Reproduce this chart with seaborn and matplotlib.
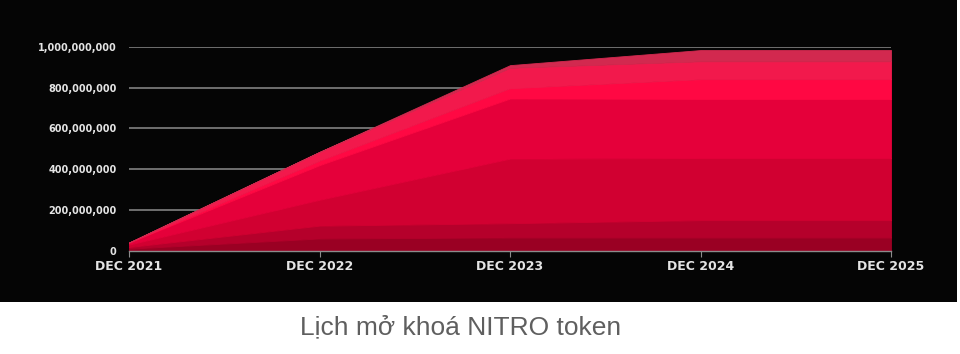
import matplotlib.pyplot as plt
import matplotlib.patches as mpatches
from matplotlib.ticker import FuncFormatter
import seaborn as sns

# Dữ liệu mở khoá (ước lượng từ hình), đơn vị: triệu token
years = [2021, 2022, 2023, 2024, 2025]
tick_labels = ['DEC 2021', 'DEC 2022', 'DEC 2023', 'DEC 2024', 'DEC 2025']
layer1 = [10, 60, 65, 65, 65]
layer2 = [8, 63, 70, 85, 85]
layer3 = [12, 127, 317, 305, 305]
layer4 = [10, 170, 295, 290, 290]
layer5 = [0, 22, 51, 97, 97]
layer6 = [0, 43, 100, 88, 88]
layer7 = [0, 0, 13, 55, 55]
layer_colors = ['#9a0023', '#b5002b', '#d10031', '#e5003a', '#ff0843', '#f2194c', '#d2294f']

sns.set_style('dark')

fig = plt.figure(figsize=(9.6, 3.54), dpi=100, facecolor='white')
# nền đen của ảnh gốc
fig.patches.append(mpatches.Rectangle((0, 0.147), 0.9965, 0.853, transform=fig.transFigure,
                                      facecolor='#050505', edgecolor='none', zorder=-1))

ax = fig.add_axes([0.1344, 0.2918, 0.79375, 0.5754])
ax.set_zorder(2)
ax.set_facecolor('none')

layers = [layer1, layer2, layer3, layer4, layer5, layer6, layer7]
vals = [[v * 1e6 for v in l] for l in layers]
polys = ax.stackplot(years, *vals, colors=layer_colors, zorder=2)
for p, c in zip(polys, layer_colors):
    p.set_edgecolor(c)
    p.set_linewidth(0.6)

ax.set_xlim(2021, 2025)
ax.set_ylim(0, 1e9)
ax.set_yticks([0, 2e8, 4e8, 6e8, 8e8, 1e9])
ax.yaxis.set_major_formatter(FuncFormatter(lambda v, p: f'{v:,.0f}'))
ax.set_xticks(years)
ax.set_xticklabels(tick_labels)

ax.grid(axis='y', color='#8c8c8c', linewidth=1.1, zorder=1)
ax.grid(axis='x', visible=False)
ax.set_axisbelow(True)

for side in ['top', 'right', 'left']:
    ax.spines[side].set_visible(False)
ax.spines['bottom'].set_color('#8c8c8c')
ax.spines['bottom'].set_linewidth(1.0)
ax.spines['bottom'].set_zorder(3)

ax.tick_params(axis='y', length=0, pad=9, labelsize=7, labelcolor='#e4e4e4')
ax.tick_params(axis='x', length=4, width=0.8, color='#8c8c8c', pad=3,
               labelsize=9, labelcolor='#e4e4e4', bottom=True)
for lbl in ax.get_xticklabels() + ax.get_yticklabels():
    lbl.set_fontweight('bold')

fig.text(0.480, 0.076, 'Lịch mở khoá NITRO token', ha='center', va='center',
         fontsize=19, color='#5f5f5f', family=['Liberation Sans', 'DejaVu Sans'])

fig.savefig('out.png', dpi=100, facecolor='white')
